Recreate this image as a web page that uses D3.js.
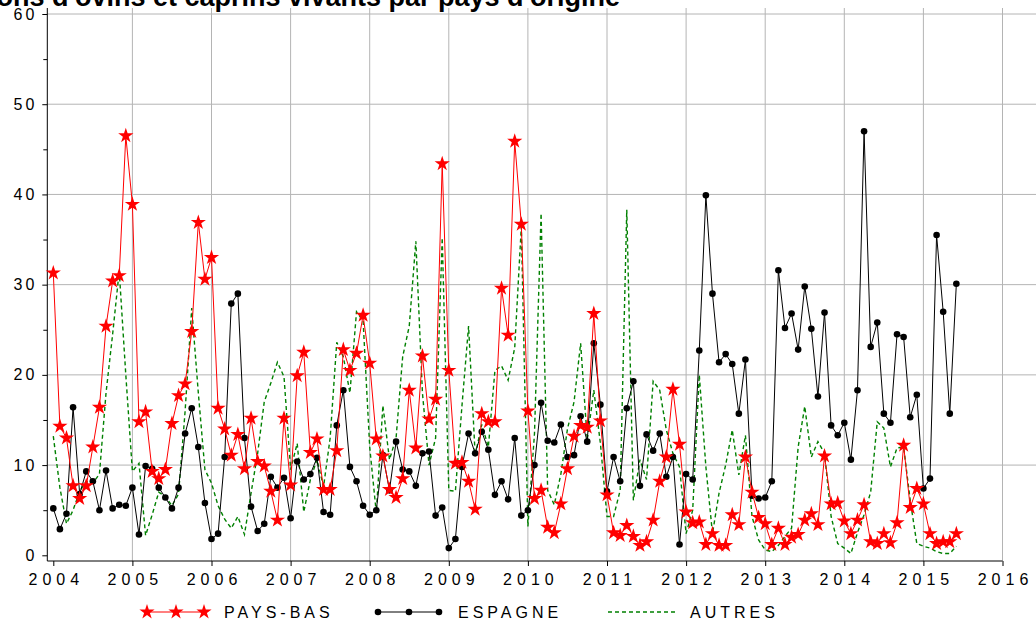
<!DOCTYPE html>
<html>
<head>
<meta charset="utf-8">
<script src="https://cdn.jsdelivr.net/npm/d3@7"></script>
<style>
  body { margin: 0; background: #fff; }
  svg text { font-family: "Liberation Sans Narrow", "Liberation Sans", Arial, sans-serif; }
</style>
</head>
<body>
<svg id="chart" width="1036" height="628"></svg>
<script>
const titleText = "Importations d'ovins et caprins vivants par pays d'origine"
const startYear = 2004
const yearTicks = [2004, 2005, 2006, 2007, 2008, 2009, 2010, 2011, 2012, 2013, 2014, 2015, 2016]
const valueTicks = [0, 10, 20, 30, 40, 50, 60]
const minorTicks = [5, 15, 25, 35, 45, 55]
const seriesNames = ["PAYS-BAS", "ESPAGNE", "AUTRES"]

// monthly values, jan 2004 -> jun 2015
const paysBas = [
  31.3, 14.3, 13.0, 7.7, 6.3, 7.7, 12.0, 16.4, 25.4, 30.4, 31.0, 46.5,
  38.9, 14.8, 15.9, 9.3, 8.5, 9.5, 14.6, 17.7, 19.0, 24.8, 36.9, 30.6,
  33.0, 16.3, 14.0, 11.1, 13.4, 9.6, 15.2, 10.4, 9.9, 7.1, 3.9, 15.2,
  7.8, 19.9, 22.5, 11.4, 12.9, 7.3, 7.3, 11.6, 22.8, 20.5, 22.4, 26.6,
  21.3, 12.9, 11.0, 7.3, 6.4, 8.5, 18.3, 11.9, 22.1, 15.1, 17.3, 43.4,
  20.5, 10.2, 10.3, 8.2, 5.1, 15.7, 14.8, 14.8, 29.6, 24.4, 45.9, 36.7,
  16.0, 6.3, 7.2, 3.1, 2.5, 5.7, 9.6, 13.2, 14.4, 14.2, 26.8, 14.9,
  6.7, 2.5, 2.2, 3.3, 2.1, 1.1, 1.5, 3.9, 8.2, 10.9, 18.4, 12.3,
  4.8, 3.6, 3.7, 1.2, 2.4, 1.1, 1.1, 4.5, 3.4, 10.9, 7.0, 4.2,
  3.5, 1.2, 3.0, 1.2, 2.0, 2.3, 3.9, 4.6, 3.4, 11.0, 5.7, 5.8,
  3.8, 2.4, 3.9, 5.6, 1.5, 1.3, 2.4, 1.4, 3.6, 12.2, 5.3, 7.4,
  5.7, 2.4, 1.3, 1.5, 1.5, 2.4
]
const espagne = [
  5.2, 2.9, 4.6, 16.4, 6.8, 9.3, 8.2, 5.0, 9.4, 5.2, 5.6, 5.5,
  7.5, 2.3, 9.9, 9.6, 7.5, 6.4, 5.2, 7.5, 13.5, 16.3, 12.0, 5.8,
  1.8, 2.4, 10.9, 27.9, 29.0, 13.0, 5.4, 2.7, 3.5, 8.7, 7.5, 8.6,
  4.1, 10.4, 8.4, 9.0, 10.8, 4.8, 4.5, 14.4, 18.3, 9.8, 8.2, 5.5,
  4.5, 5.0, 11.1, 7.2, 12.6, 9.5, 9.3, 7.7, 11.3, 11.5, 4.4, 5.3,
  0.8, 1.8, 9.8, 13.5, 11.3, 13.7, 11.7, 6.7, 8.2, 6.2, 13.0, 4.4,
  5.0, 10.0, 16.9, 12.7, 12.5, 14.5, 10.9, 11.1, 15.4, 12.6, 23.5, 16.7,
  7.1, 10.9, 8.2, 16.3, 19.3, 7.7, 13.4, 11.6, 13.5, 8.7, 10.9, 1.2,
  9.0, 8.4, 22.7, 39.9, 29.0, 21.4, 22.3, 21.2, 15.7, 21.7, 6.6, 6.3,
  6.4, 8.2, 31.6, 25.2, 26.8, 22.8, 29.8, 25.1, 17.6, 26.9, 14.4, 13.3,
  14.7, 10.6, 18.3, 47.0, 23.1, 25.8, 15.7, 14.7, 24.5, 24.2, 15.3, 17.8,
  7.4, 8.5, 35.5, 27.0, 15.7, 30.1
]
const autres = [
  13.2, 7.5, 3.5, 5.0, 7.1, 8.2, 8.0, 9.0, 18.0, 24.5, 31.5, 20.0,
  9.3, 10.2, 2.2, 4.5, 7.0, 6.5, 5.5, 6.8, 16.0, 27.4, 18.0, 9.5,
  8.0, 5.5, 4.0, 3.0, 4.3, 2.3, 6.9, 11.3, 17.0, 19.1, 21.4, 19.8,
  9.5, 12.4, 4.8, 8.4, 10.6, 7.6, 13.0, 23.6, 22.0, 18.0, 27.0, 26.0,
  12.0, 4.7, 16.6, 10.6, 13.0, 22.0, 25.4, 34.8, 18.0, 10.0, 13.0, 35.2,
  7.2, 7.1, 16.6, 25.4, 11.1, 14.5, 12.0, 20.5, 21.0, 19.4, 23.0, 36.4,
  3.2, 13.5, 37.9, 7.2, 5.6, 9.0, 14.0, 17.0, 23.5, 12.8, 18.3, 12.4,
  4.3, 4.3, 7.2, 38.3, 6.1, 10.6, 8.4, 19.3, 18.3, 13.9, 11.3, 9.8,
  2.4, 5.0, 20.0, 9.8, 2.4, 6.9, 10.0, 13.9, 8.9, 13.3, 4.3, 1.7,
  0.6, 0.4, 1.1, 2.1, 3.0, 12.0, 16.5, 10.9, 12.6, 11.3, 4.3, 1.3,
  0.8, 0.2, 2.5, 4.5, 7.0, 14.8, 14.1, 9.8, 11.9, 12.0, 6.1, 1.3,
  1.0, 0.8, 0.4, 0.2, 0.2, 1.0
]

const svg = d3.select("#chart")
const x = d3.scaleLinear().domain([2004, 2016]).range([53.3, 1002.5])
const y = d3.scaleLinear().domain([0, 60]).range([555.3, 14])
const axisX = 47.3
const axisY = 561
const gridColor = "#b4b4b4"
const monthX = (d, i) => x(startYear + i / 12)

// grid
svg.append("g").selectAll("line")
  .data(valueTicks.slice(1))
  .join("line")
  .attr("x1", axisX).attr("x2", 1036)
  .attr("y1", d => y(d)).attr("y2", d => y(d))
  .attr("stroke", gridColor)
svg.append("g").selectAll("line")
  .data(yearTicks.slice(1))
  .join("line")
  .attr("x1", d => x(d)).attr("x2", d => x(d))
  .attr("y1", 8).attr("y2", axisY)
  .attr("stroke", gridColor)

// title, partly cut off at the top and left like the source
svg.append("text")
  .attr("x", 620)
  .attr("y", 6)
  .attr("text-anchor", "end")
  .style("font-family", "'Liberation Sans', Arial, sans-serif")
  .style("font-weight", "bold")
  .style("font-size", "27px")
  .text(titleText)

// y axis
const yAxis = svg.append("g")
  .attr("transform", `translate(${axisX},0)`)
  .call(d3.axisLeft(y).tickValues(valueTicks).tickSize(5).tickPadding(5).tickFormat(d3.format("d")))
yAxis.select(".domain").remove()
yAxis.selectAll("text")
  .style("font-size", "16px")
  .style("letter-spacing", "3px")
  .attr("fill", "#000")
svg.append("g")
  .attr("transform", `translate(${axisX},0)`)
  .call(d3.axisLeft(y).tickValues(minorTicks).tickSize(4).tickFormat(""))
  .select(".domain").remove()
svg.append("line")
  .attr("x1", axisX).attr("x2", axisX)
  .attr("y1", 8).attr("y2", axisY)
  .attr("stroke", "#000")

// x axis
const xAxis = svg.append("g")
  .attr("transform", `translate(0,${axisY})`)
  .call(d3.axisBottom(x).tickValues(yearTicks).tickSize(5).tickPadding(8).tickFormat(d3.format("d")))
xAxis.select(".domain").remove()
xAxis.selectAll("text")
  .style("font-size", "16px")
  .style("letter-spacing", "5px")
  .attr("dx", "2.5px")
  .attr("fill", "#000")
svg.append("line")
  .attr("x1", axisX).attr("x2", x(2016))
  .attr("y1", axisY).attr("y2", axisY)
  .attr("stroke", "#000")

// series
const lineGen = d3.line().x(monthX).y(d => y(d))
const star = d3.symbol().type(d3.symbolStar).size(72)

svg.append("path")
  .datum(autres)
  .attr("d", lineGen)
  .attr("fill", "none")
  .attr("stroke", "#008000")
  .attr("stroke-width", 1.4)
  .attr("stroke-dasharray", "4,3")

svg.append("path")
  .datum(espagne)
  .attr("d", lineGen)
  .attr("fill", "none")
  .attr("stroke", "#000")
  .attr("stroke-width", 1)
svg.append("g").selectAll("circle")
  .data(espagne)
  .join("circle")
  .attr("cx", monthX)
  .attr("cy", d => y(d))
  .attr("r", 3.3)
  .attr("fill", "#000")

svg.append("path")
  .datum(paysBas)
  .attr("d", lineGen)
  .attr("fill", "none")
  .attr("stroke", "#ff0000")
  .attr("stroke-width", 1)
svg.append("g").selectAll("path")
  .data(paysBas)
  .join("path")
  .attr("d", star)
  .attr("transform", (d, i) => `translate(${monthX(d, i)},${y(d)})`)
  .attr("fill", "#ff0000")

// legend
const legY = 612
const leg = svg.append("g")
leg.append("line").attr("x1", 146).attr("x2", 205).attr("y1", legY).attr("y2", legY).attr("stroke", "#ff0000")
leg.selectAll(".ls").data([147, 176, 204]).join("path")
  .attr("class", "ls")
  .attr("d", star)
  .attr("transform", d => `translate(${d},${legY})`)
  .attr("fill", "#ff0000")
leg.append("line").attr("x1", 378).attr("x2", 439).attr("y1", legY).attr("y2", legY).attr("stroke", "#000")
leg.selectAll(".lc").data([378, 409, 439]).join("circle")
  .attr("class", "lc")
  .attr("cx", d => d).attr("cy", legY).attr("r", 3.3).attr("fill", "#000")
leg.append("line").attr("x1", 608).attr("x2", 678).attr("y1", legY).attr("y2", legY)
  .attr("stroke", "#008000").attr("stroke-width", 1.4).attr("stroke-dasharray", "4,3")
leg.selectAll("text")
  .data(seriesNames)
  .join("text")
  .attr("x", (d, i) => [224, 458, 690][i])
  .attr("y", legY + 6)
  .style("font-size", "16px")
  .style("letter-spacing", "4px")
  .text(d => d)
</script>
</body>
</html>
